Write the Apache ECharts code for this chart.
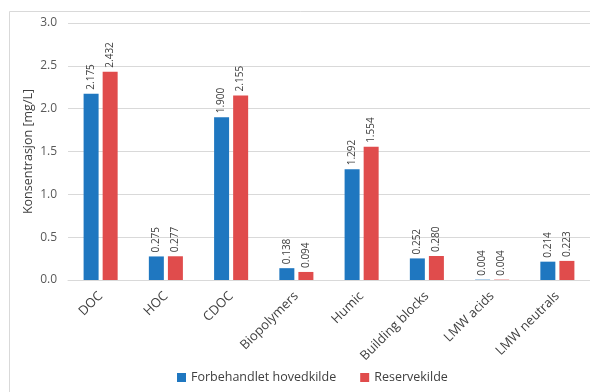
<!DOCTYPE html>
<html>
<head>
<meta charset="utf-8">
<script src="https://cdn.jsdelivr.net/npm/echarts@6/dist/echarts.min.js"></script>
<style>
  html, body { margin: 0; padding: 0; background: #fff; }
  #chart { width: 590px; height: 392px; }
</style>
</head>
<body>
<div id="chart"></div>
<script>
// Fraction names and measured concentrations (mg/L)
const categories = ['DOC', 'HOC', 'CDOC', 'Biopolymers', 'Humic', 'Building blocks', 'LMW acids', 'LMW neutrals'];
const hovedkilde = [2.175, 0.275, 1.900, 0.138, 1.292, 0.252, 0.004, 0.214];
const reservekilde = [2.432, 0.277, 2.155, 0.094, 1.554, 0.280, 0.004, 0.223];
const seriesNames = ['Forbehandlet hovedkilde', 'Reservekilde'];

const font = '"Open Sans", "Liberation Sans", sans-serif';
const labelCfg = {
  show: true,
  position: 'top',
  rotate: 90,
  align: 'left',
  verticalAlign: 'middle',
  distance: 4,
  fontSize: 10,
  fontFamily: font,
  color: '#404040',
  formatter: p => p.value.toFixed(3)
};

const chart = echarts.init(document.getElementById('chart'), null, { renderer: 'canvas' });
chart.setOption({
  animation: false,
  graphic: [{
    type: 'rect',
    shape: { x: 9.5, y: 11.5, width: 600, height: 400 },
    style: { fill: 'none', stroke: '#d9d9d9', lineWidth: 1 },
    silent: true
  }],
  grid: { left: 68, right: 0, top: 23, bottom: 112 },
  legend: {
    bottom: 3,
    left: 172,
    itemWidth: 9,
    itemHeight: 9,
    itemGap: 24,
    icon: 'rect',
    textStyle: { fontSize: 12.5, fontFamily: font, color: '#404040' },
    data: seriesNames
  },
  xAxis: {
    type: 'category',
    data: categories,
    axisLine: { lineStyle: { color: '#d9d9d9' } },
    axisTick: { show: false },
    axisLabel: {
      rotate: 45,
      interval: 0,
      fontSize: 13,
      fontFamily: font,
      color: '#404040',
      margin: 14
    }
  },
  yAxis: {
    type: 'value',
    min: 0,
    max: 3,
    interval: 0.5,
    name: 'Konsentrasjon [mg/L]',
    nameLocation: 'middle',
    nameGap: 33,
    nameMoveOverlap: false,
    nameTextStyle: { fontSize: 12.5, fontFamily: font, color: '#404040' },
    axisLine: { show: false },
    axisTick: { show: false },
    axisLabel: {
      fontSize: 12,
      fontFamily: font,
      color: '#595959',
      margin: 11,
      formatter: v => v.toFixed(1)
    },
    splitLine: { lineStyle: { color: '#d9d9d9' } }
  },
  series: [
    {
      name: seriesNames[0],
      type: 'bar',
      data: hovedkilde,
      barWidth: 15,
      barGap: '27%',
      itemStyle: { color: '#1f77c0' },
      label: labelCfg
    },
    {
      name: seriesNames[1],
      type: 'bar',
      data: reservekilde,
      barWidth: 15,
      itemStyle: { color: '#e04c4c' },
      label: labelCfg
    }
  ]
});
</script>
</body>
</html>
